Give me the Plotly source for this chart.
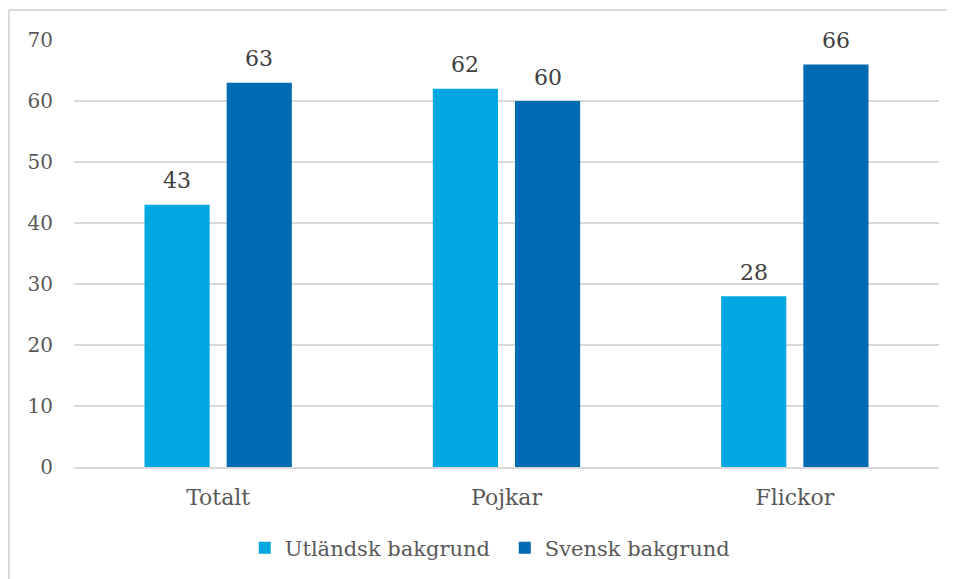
import plotly.graph_objects as go

categories = ["Totalt", "Pojkar", "Flickor"]
utlandsk = [43, 62, 28]
svensk = [63, 60, 66]
series_names = ["Utländsk bakgrund", "Svensk bakgrund"]
colors = ["#00A8E1", "#006AB3"]
font_family = "'DejaVu Serif', Georgia, serif"
text_color = "#595959"
label_color = "#404040"

BARGAP, BARGROUPGAP = 0.43, 0.207

fig = go.Figure()
for name, vals, col in zip(series_names, [utlandsk, svensk], colors):
    fig.add_trace(go.Bar(
        x=categories, y=vals, name=name, marker=dict(color=col, line=dict(width=0)),
    ))

# value labels placed above each bar via the axes (category index +/- group offset)
slot = (1 - BARGAP) / 2
annotations = []
for t, vals in enumerate([utlandsk, svensk]):
    off = (t - 0.5) * slot
    for i, v in enumerate(vals):
        annotations.append(dict(
            x=i + off, y=v, xref="x", yref="y", text=str(v), showarrow=False,
            yanchor="middle", yshift=24,
            font=dict(family=font_family, size=22, color=label_color),
        ))

OFF = 8  # page body margin
W, H = 955, 579 - OFF
ml, mr, mt, mb = 74 - OFF, 955 - 939 + OFF, 40 - OFF, 579 - 468
pw = W - ml - mr
ph = H - mt - mb

def px_x(p):
    return (p - OFF - ml) / pw

def px_y(p):
    return (H - mb - (p - OFF)) / ph

fig.update_layout(
    width=W, height=H,
    margin=dict(l=ml, r=mr, t=mt, b=mb),
    paper_bgcolor="white", plot_bgcolor="white",
    barmode="group", bargap=BARGAP, bargroupgap=BARGROUPGAP,
    font=dict(family=font_family, size=20, color=text_color),
    showlegend=True,
    legend=dict(orientation="h", x=0.498, xanchor="center", y=px_y(548), yanchor="middle",
                font=dict(size=21, color=text_color), itemwidth=30,
                entrywidth=215, traceorder="normal"),
    annotations=annotations,
    xaxis=dict(showgrid=False, showline=True, linecolor="#d9d9d9", linewidth=1.5,
               ticks="", tickfont=dict(size=22, color=text_color), ticklabelstandoff=10),
    yaxis=dict(range=[0, 70], dtick=10, showgrid=True, gridcolor="#d9d9d9", gridwidth=1.5,
               zeroline=False, showline=False, ticks="", ticklabelstandoff=20,
               tickfont=dict(size=20, color=text_color)),
    shapes=[
        dict(type="line", xref="paper", yref="paper", x0=px_x(9), x1=px_x(9),
             y0=px_y(10), y1=px_y(585), line=dict(color="#d9d9d9", width=2)),
        dict(type="line", xref="paper", yref="paper", x0=px_x(9), x1=px_x(970),
             y0=px_y(10), y1=px_y(10), line=dict(color="#d9d9d9", width=2)),
    ],
)

fig.write_html(
    "out.html",
    config={"displayModeBar": False},
    post_script="document.documentElement.style.overflow='hidden';document.body.style.overflow='hidden';",
)
